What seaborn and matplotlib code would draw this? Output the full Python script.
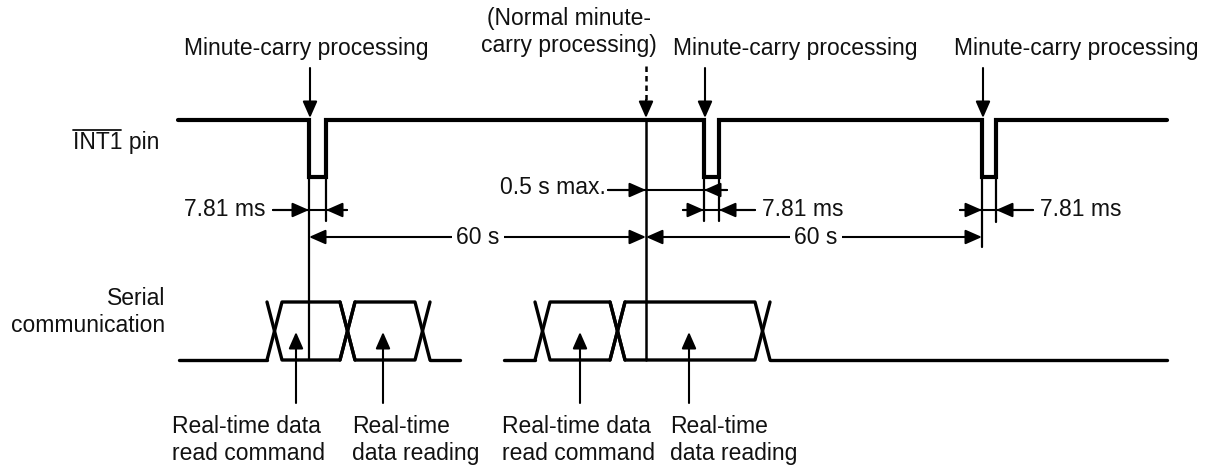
import matplotlib
matplotlib.use("Agg")
import matplotlib.pyplot as plt
import seaborn as sns

# waveform levels (diagram units, y grows downward)
int1_high, int1_low = 120, 177
int1_start, int1_end = 178, 1167
pulse_starts = [309, 704, 982]
pulse_ends = [326, 719, 996]
normal_carry_x = 646

serial_high, serial_low = 302, 360
bus_idle_starts = [179, 504]
bus_cell_edges = [[267, 340, 415], [535, 610, 755]]
bus_idle_ends = [460, 1167]
bus_swap = 15

top_labels = ["Minute-carry processing", "Minute-carry processing", "Minute-carry processing"]
top_label_x = [306, 795, 1076]
normal_label = "(Normal minute-\ncarry processing)"

# extension lines: x, bottom y
ext_x = [309, 326, 704, 719, 982, 996]
ext_bottom = [360, 221, 221, 221, 247, 222]

bottom_labels = ["Real-time data\nread command", "Real-time\ndata reading",
                 "Real-time data\nread command", "Real-time\ndata reading"]
bottom_label_x = [172, 352, 502, 670]
bottom_arrow_x = [296, 383, 580, 689]

sns.set_theme(style="white")
plt.rcParams["font.family"] = ["Liberation Sans", "DejaVu Sans"]
ink = "#111111"
fs = 16.5

fig = plt.figure(figsize=(12.09, 4.70), dpi=100)
ax = fig.add_axes([0, 0, 1, 1])
ax.set_xlim(0, 1209)
ax.set_ylim(470, 0)
ax.axis("off")

# INT1 waveform
xs, ys = [int1_start], [int1_high]
for s, e in zip(pulse_starts, pulse_ends):
    xs += [s, s, e, e]
    ys += [int1_high, int1_low, int1_low, int1_high]
xs.append(int1_end)
ys.append(int1_high)
sns.lineplot(x=xs, y=ys, sort=False, estimator=None, ax=ax, color="black",
             lw=3.0, solid_joinstyle="miter")

# serial bus waveform
for st, edges, en in zip(bus_idle_starts, bus_cell_edges, bus_idle_ends):
    sns.lineplot(x=[st, edges[0]], y=[serial_low, serial_low], sort=False,
                 estimator=None, ax=ax, color="black", lw=2.4)
    sns.lineplot(x=[edges[-1] + bus_swap, en], y=[serial_low, serial_low], sort=False,
                 estimator=None, ax=ax, color="black", lw=2.4)
    for a, b in zip(edges[:-1], edges[1:]):
        sns.lineplot(x=[a, a + bus_swap, b, b + bus_swap],
                     y=[serial_low, serial_high, serial_high, serial_low],
                     sort=False, estimator=None, ax=ax, color="black", lw=2.4)
        sns.lineplot(x=[a, a + bus_swap, b, b + bus_swap],
                     y=[serial_high, serial_low, serial_low, serial_high],
                     sort=False, estimator=None, ax=ax, color="black", lw=2.4)

# extension lines
for x, yb in zip(ext_x, ext_bottom):
    ax.plot([x, x], [int1_low, yb], color="black", lw=1.6)
ax.plot([normal_carry_x, normal_carry_x], [int1_high, serial_low], color="black", lw=1.8)

head = dict(arrowstyle="-|>,head_length=0.5,head_width=0.22", color="black",
            lw=1.5, shrinkA=0, shrinkB=0, mutation_scale=20)


def arrow(x0, y0, x1, y1):
    ax.annotate("", xy=(x1, y1), xytext=(x0, y0), arrowprops=head)


def dim(y, x_left, tip_left, tip_right, x_right):
    ax.plot([x_left, x_right], [y, y], color="black", lw=1.5)
    arrow(x_left, y, tip_left, y)
    arrow(x_right, y, tip_right, y)


# top arrows
for x in pulse_starts:
    arrow(x + 1, 68, x + 1, int1_high - 2)
ax.plot([normal_carry_x, normal_carry_x], [66, 104], color="black", lw=1.8,
        linestyle=(0, (2.2, 1.6)))
arrow(normal_carry_x, 100, normal_carry_x, int1_high - 2)

for t, x in zip(top_labels, top_label_x):
    ax.text(x, 48, t, ha="center", va="center", fontsize=fs, color=ink)
ax.text(569, 32, normal_label, ha="center", va="center", fontsize=fs, color=ink,
        linespacing=1.2)

# left labels
ax.text(73, 143, "INT1 pin", ha="left", va="center", fontsize=fs, color=ink)
ax.plot([73, 121], [130, 130], color=ink, lw=1.3)
ax.text(165, 312, "Serial\ncommunication", ha="right", va="center", fontsize=fs,
        color=ink, linespacing=1.2)

# 7.81 ms and 0.5 s dimensions
dim(210, 273, 309, 326, 347)
ax.text(266, 210, "7.81 ms", ha="right", va="center", fontsize=fs, color=ink)
dim(210, 683, 704, 719, 755)
ax.text(762, 210, "7.81 ms", ha="left", va="center", fontsize=fs, color=ink)
dim(210, 960, 982, 996, 1033)
ax.text(1040, 210, "7.81 ms", ha="left", va="center", fontsize=fs, color=ink)
dim(190, 608, 646, 704, 727)
ax.text(606, 188, "0.5 s max.", ha="right", va="center", fontsize=fs, color=ink)

# 60 s spans
both = dict(head)
both["arrowstyle"] = "<|-|>,head_length=0.5,head_width=0.22"
for x0, x1, xt in [(309, 646, 478), (646, 982, 816)]:
    ax.annotate("", xy=(x1, 237), xytext=(x0, 237), arrowprops=both)
    ax.text(xt, 237, "60 s", ha="center", va="center", fontsize=fs, color=ink,
            bbox=dict(facecolor="white", edgecolor="none", pad=3))

# bottom labels
for t, xl, xa in zip(bottom_labels, bottom_label_x, bottom_arrow_x):
    arrow(xa, 403, xa, 332)
    ax.text(xl, 440, t, ha="left", va="center", fontsize=fs, color=ink, linespacing=1.2)

fig.savefig("out.png", dpi=100, facecolor="white")
